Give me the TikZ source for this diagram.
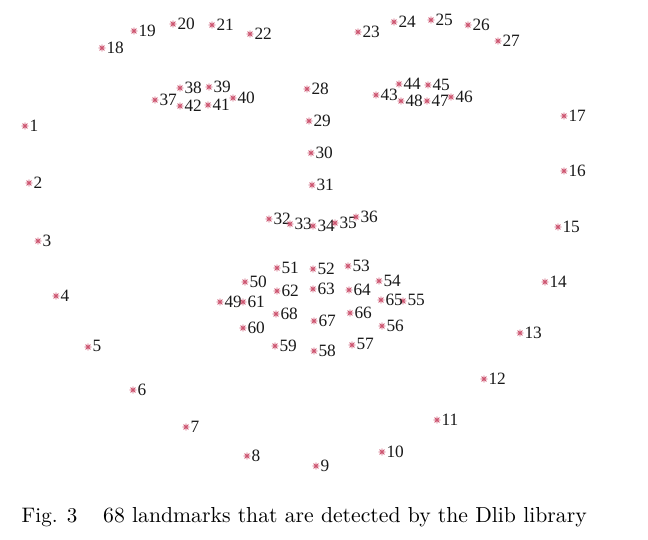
\documentclass[tikz,border=0pt]{standalone}
\usepackage{fontspec}
\setmainfont{Latin Modern Roman}
\newfontfamily\lblfont{Liberation Serif}
\newfontfamily\capfont{lmroman10-regular.otf}
\definecolor{mkcol}{RGB}{205,85,112}
\begin{document}
\begin{tikzpicture}[x=1pt,y=-1pt,
  mk/.style={rectangle,inner sep=0pt,minimum size=8pt,
    path picture={\draw[mkcol,line width=0.8pt,line cap=round]
      (-3.3pt,0)--(3.3pt,0) (0,-3.3pt)--(0,3.3pt)
      (-2.3pt,-2.3pt)--(2.3pt,2.3pt) (-2.3pt,2.3pt)--(2.3pt,-2.3pt);}},
  lbl/.style={anchor=west,inner sep=0pt,text=black!90,font=\lblfont\fontsize{17.3}{19}\selectfont},
  captext/.style={anchor=base west,inner sep=0pt,font=\capfont\fontsize{21}{24}\selectfont}]
\useasboundingbox (0,0) rectangle (648,539);
\foreach \x/\y/\n in {25/126/1,29/183/2,38/241/3,56/296/4,88/347/5,133/390/6,186/427/7,247/456/8,316/466/9,
  382/452/10,437/420/11,484/379/12,520/333/13,545/282/14,558/227/15,564/171/16,564/116/17,
  102/48/18,134/31/19,173/24/20,212/25/21,250/34/22,358/32/23,394/22/24,431/20/25,468/25/26,498/41/27,
  307/89/28,309/121/29,311/153/30,312/185/31,269/219/32,290/224/33,313/226/34,335/223/35,356/217/36,
  155/100/37,180/88/38,209/87/39,233/98/40,208/105/41,180/106/42,376/95/43,399/84/44,428/85/45,451/97/46,427/101/47,401/101/48,
  220/302/49,245/282/50,277/268/51,313/269/52,348/266/53,379/281/54,403/301/55,382/326/56,352/345/57,314/351/58,275/346/59,243/328/60,
  243/302/61,277/291/62,313/289/63,349/290/64,381/300/65,350/313/66,314/321/67,276/314/68}{
  \node[mk] (m\n) at (\x,\y) {};
  \node[lbl] (l\n) at ([xshift=4.3pt,yshift=0.6pt]m\n.center) {\n};
}
\node[captext] (figno) at (21.5,522.7) {Fig. 3};
\node[captext,font=\capfont\fontsize{21.7}{24}\selectfont] (captxt) at (103,522.7) {68 landmarks that are detected by the Dlib library};
\end{tikzpicture}
\end{document}
